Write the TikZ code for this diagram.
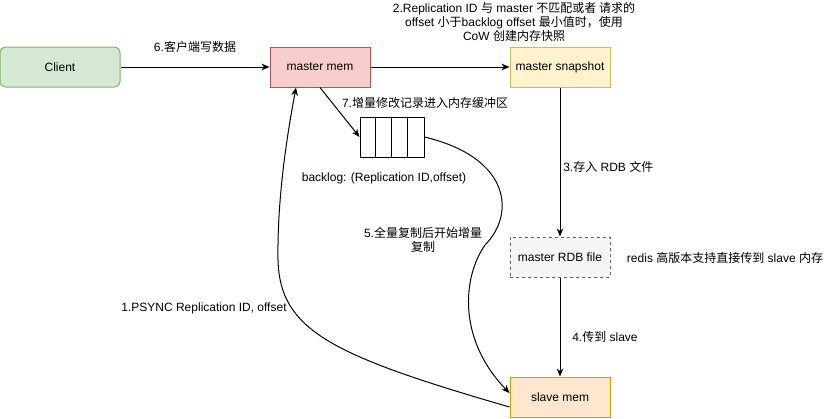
\documentclass[tikz,border=0pt]{standalone}
\usepackage{fontspec}
\setmainfont{Liberation Sans}
\newfontfamily\cjkf{Noto Sans CJK SC}
\newcommand{\cjk}[1]{{\cjkf #1}}
\usetikzlibrary{arrows.meta,calc}
\definecolor{cgreenf}{HTML}{D5E8D4}\definecolor{cgreend}{HTML}{82B366}
\definecolor{credf}{HTML}{F8CECC}\definecolor{credd}{HTML}{B85450}
\definecolor{cyelf}{HTML}{FFF2CC}\definecolor{cyeld}{HTML}{D6B656}
\definecolor{cgrayf}{HTML}{F5F5F5}\definecolor{cgrayd}{HTML}{666666}
\definecolor{corf}{HTML}{FFE6CC}\definecolor{cord}{HTML}{D79B00}
\begin{document}
\begin{tikzpicture}[x=0.75pt,y=-0.75pt,
  every node/.style={font=\fontsize{9pt}{10.5pt}\selectfont, inner sep=0pt},
  box/.style={draw, line width=0.75pt, minimum width=75pt, minimum height=30pt, align=center},
  lbl/.style={align=center},
  conn/.style={line width=0.75pt, -{Stealth[length=6pt,width=5pt,inset=1.8pt]}},
  plain/.style={line width=0.75pt}]
\useasboundingbox (0,0) rectangle (831,418);
\node[box, fill=cgreenf, draw=cgreend, rounded corners=4.5pt, minimum width=90pt] (client) at (60,67) {Client};
\node[box, fill=credf, draw=credd] (mm) at (320,67) {master mem};
\node[box, fill=cyelf, draw=cyeld] (snap) at (560,67) {master snapshot};
\node[box, fill=cgrayf, draw=cgrayd, dashed, dash pattern=on 2.25pt off 2.25pt] (rdb) at (560,257) {master RDB file};
\node[box, fill=corf, draw=cord] (slave) at (560,397) {slave mem};
\node[draw, line width=0.75pt, minimum width=48pt, minimum height=30pt] (queue) at (392,137) {};
\foreach \i in {1,2,3} {\draw[plain] ($(queue.north west)+(16*\i,0)$) -- ($(queue.south west)+(16*\i,0)$);}

\draw[conn] (client) -- (mm);
\draw[conn] (mm) -- (snap);
\draw[conn] (snap) -- (rdb);
\draw[conn] (rdb) -- (slave);
\draw[conn] (mm.south) -- (queue.west);
\draw[conn] (queue.east) .. controls (512,158) and (515,215) .. (485,245) .. controls (462,278) and (458,340) .. ($(slave.west)+(0,-4)$);
\draw[conn] ($(slave.west)+(0,10)$) .. controls (330,355) and (280,330) .. (278,260) .. controls (277,190) and (290,120) .. ($(mm.south)+(-24,0)$);

\node[lbl] (l6) at (195,47) {6.\cjk{客户端写数据}};
\node[lbl] (l2) at (514,21.5) {2.Replication ID \cjk{与} master \cjk{不匹配或者 请求的}\\offset \cjk{小于}backlog offset \cjk{最小值时，使用}\\CoW \cjk{创建内存快照}};
\node[lbl] (l7) at (425,103) {7.\cjk{增量修改记录进入内存缓冲区}};
\node[lbl] (lb) at (384,178) {backlog: (Replication ID,offset)};
\node[lbl, anchor=west] (l3) at (563,167) {3.\cjk{存入} RDB \cjk{文件}};
\node[lbl] (lr) at (725,258) {redis \cjk{高版本支持直接传到} slave \cjk{内存}};
\node[lbl] (l5) at (423,240) {5.\cjk{全量复制后开始增量}\\\cjk{复制}};
\node[lbl] (l1) at (204,308) {1.PSYNC Replication ID, offset};
\node[lbl, anchor=west] (l4) at (572,337) {4.\cjk{传到} slave};
\end{tikzpicture}
\end{document}
